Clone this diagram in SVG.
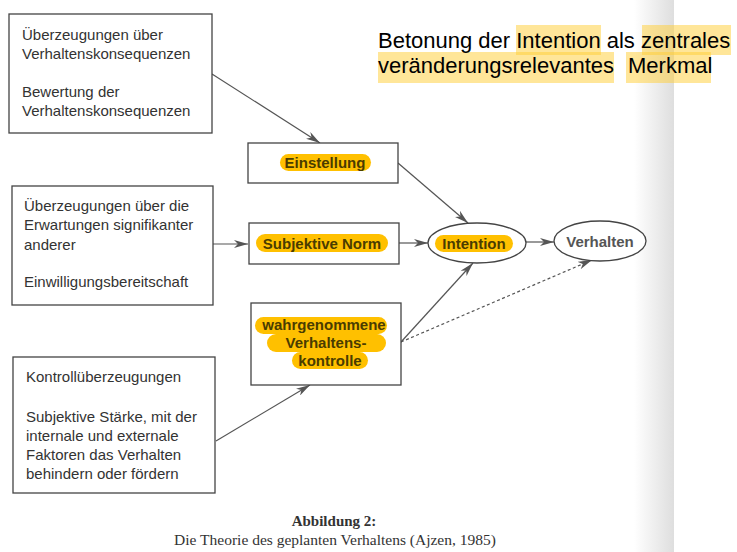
<svg xmlns="http://www.w3.org/2000/svg" width="737" height="552" viewBox="0 0 737 552">
<defs>
<linearGradient id="edge" x1="0" y1="0" x2="1" y2="0">
<stop offset="0" stop-color="#ffffff"/>
<stop offset="1" stop-color="#dedede"/>
</linearGradient>
<marker id="arr" viewBox="0 0 14 8" refX="14" refY="4" markerWidth="14" markerHeight="8" markerUnits="userSpaceOnUse" orient="auto">
<path d="M0,0 L14,4 L0,8 L4,4 Z" fill="#555"/>
</marker>
<style>
.box{fill:#fff;stroke:#444;stroke-width:1.3}
.ell{fill:#fff;stroke:#444;stroke-width:1.3}
.t{font-family:"Liberation Sans",Arial,sans-serif;font-size:15px;fill:#333}
.b{font-family:"Liberation Sans",Arial,sans-serif;font-size:15px;font-weight:bold;fill:#4a3c00;text-anchor:middle}
.pill{fill:#ffc000}
.con{stroke:#555;stroke-width:1.2;fill:none;marker-end:url(#arr)}
.hl{fill:#ffcd33;opacity:0.5}
.cap{font-family:"Liberation Serif","Times New Roman",serif;font-size:15.5px;fill:#333;text-anchor:middle}
</style>
</defs>
<rect width="737" height="552" fill="#fff"/>
<rect x="634" y="0" width="40" height="552" fill="url(#edge)"/>

<g id="connectors">
<line class="con" x1="212" y1="74" x2="320" y2="143"/>
<line class="con" x1="213" y1="244" x2="248" y2="244"/>
<line class="con" x1="216" y1="441" x2="310" y2="385"/>
<line class="con" x1="398" y1="163" x2="468" y2="223"/>
<line class="con" x1="399" y1="243" x2="428" y2="243"/>
<line class="con" x1="401" y1="342" x2="473" y2="263"/>
<line class="con" x1="526" y1="242" x2="554" y2="242"/>
<line class="con" x1="401" y1="342" x2="592" y2="260" stroke-dasharray="3,2.5"/>
</g>

<g id="box-verhaltenskonsequenzen">
<rect class="box" x="9" y="14" width="203" height="119"/>
<text class="t" x="22" y="40">Überzeugungen über</text>
<text class="t" x="22" y="59">Verhaltenskonsequenzen</text>
<text class="t" x="22" y="97">Bewertung der</text>
<text class="t" x="22" y="116">Verhaltenskonsequenzen</text>
</g>

<g id="box-erwartungen">
<rect class="box" x="12" y="186" width="201" height="119"/>
<text class="t" x="24" y="211">Überzeugungen über die</text>
<text class="t" x="24" y="230">Erwartungen signifikanter</text>
<text class="t" x="24" y="250">anderer</text>
<text class="t" x="24" y="287">Einwilligungsbereitschaft</text>
</g>

<g id="box-kontrollueberzeugungen">
<rect class="box" x="13" y="357" width="202" height="136"/>
<text class="t" x="26" y="382">Kontrollüberzeugungen</text>
<text class="t" x="26" y="422">Subjektive Stärke, mit der</text>
<text class="t" x="26" y="441">internale und externale</text>
<text class="t" x="26" y="460">Faktoren das Verhalten</text>
<text class="t" x="26" y="479">behindern oder fördern</text>
</g>

<g id="node-einstellung">
<rect class="box" x="248" y="143" width="150" height="40"/>
<rect class="pill" x="280" y="154" width="91" height="17" rx="8.5"/>
<text class="b" x="325" y="168">Einstellung</text>
</g>

<g id="node-subjektive-norm">
<rect class="box" x="249" y="223" width="150" height="41"/>
<rect class="pill" x="256" y="234" width="132" height="18" rx="9"/>
<text class="b" x="322" y="249">Subjektive Norm</text>
</g>

<g id="node-verhaltenskontrolle">
<rect class="box" x="251" y="303" width="150" height="82"/>
<rect class="pill" x="255" y="317" width="132" height="17" rx="8.5"/>
<rect class="pill" x="267" y="334" width="119" height="18" rx="9"/>
<rect class="pill" x="292" y="352" width="76" height="17" rx="8.5"/>
<text class="b" x="324" y="330">wahrgenommene</text>
<text class="b" x="326" y="348">Verhaltens-</text>
<text class="b" x="330" y="366">kontrolle</text>
</g>

<g id="node-intention">
<ellipse class="ell" cx="477" cy="243" rx="49" ry="20"/>
<rect class="pill" x="435" y="235" width="78" height="17" rx="8.5"/>
<text class="b" x="474" y="249">Intention</text>
</g>

<g id="node-verhalten">
<ellipse class="ell" cx="600" cy="241" rx="46" ry="20"/>
<text class="b" x="600" y="247" style="fill:#555">Verhalten</text>
</g>

<g id="note">
<rect class="hl" x="516" y="25" width="85" height="30"/>
<rect class="hl" x="642" y="25" width="89" height="30"/>
<rect class="hl" x="378" y="52" width="236" height="31"/>
<rect class="hl" x="626" y="52" width="85" height="31"/>
<text x="378" y="48" style="font-family:'Liberation Sans',Arial,sans-serif;font-size:22px;fill:#000">Betonung der Intention als zentrales</text>
<text x="378" y="73" style="font-family:'Liberation Sans',Arial,sans-serif;font-size:22px;fill:#000">veränderungsrelevantes<tspan x="628">Merkmal</tspan></text>
</g>

<g id="caption">
<text class="cap" x="334" y="526" style="font-weight:bold;font-size:15px">Abbildung 2:</text>
<text class="cap" x="335" y="545">Die Theorie des geplanten Verhaltens (Ajzen, 1985)</text>
</g>
</svg>
